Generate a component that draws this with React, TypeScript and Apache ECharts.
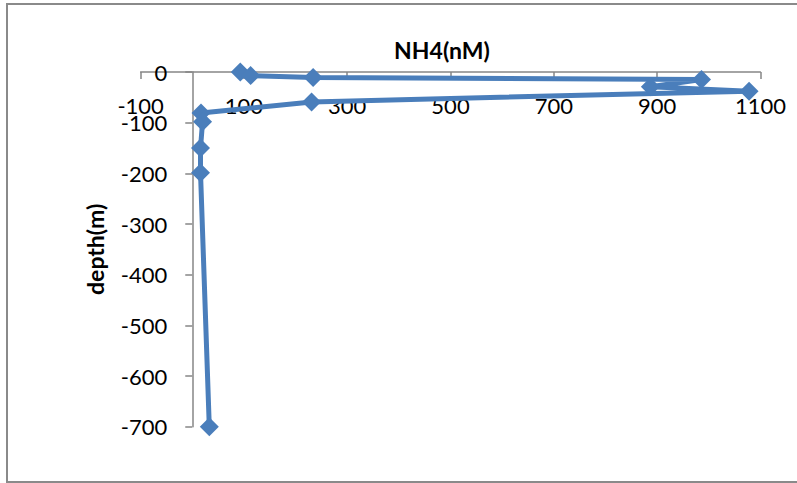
import React, { useEffect, useRef } from "react";
import * as echarts from "echarts";

const nh4Values: number[] = [93, 113, 234, 986, 887, 1078, 231, 17, 20, 16, 16, 33];
const depthValues: number[] = [0, -7, -11, -15, -29, -38, -59, -81, -98, -150, -199, -700];
const xTitle = "NH4(nM)";
const yTitle = "depth(m)";

export default function App() {
  const ref = useRef<HTMLDivElement>(null);
  useEffect(() => {
    if (!ref.current) return;
    const chart = echarts.init(ref.current, null, { renderer: "svg" });
    const data = nh4Values.map((x, i) => [x, depthValues[i]]);
    const font = "Lato, 'Open Sans', sans-serif";
    const gridLeft = 140.6;
    const gridRight = 36.6;
    const xMin = -100;
    const xMax = 1100;
    const plotW = 797 - gridLeft - gridRight;
    const yAxisOffset = -((0 - xMin) / (xMax - xMin)) * plotW;
    chart.setOption({
      animation: false,
      backgroundColor: "#ffffff",
      title: {
        text: xTitle,
        left: 437,
        top: 33,
        textAlign: "center",
        textStyle: { fontFamily: font, fontWeight: "bold", fontSize: 23, color: "#000" },
      },
      graphic: [
        {
          type: "rect",
          shape: { x: 7, y: 4, width: 800, height: 478 },
          style: { fill: "none", stroke: "#8a8a8a", lineWidth: 2 },
          silent: true,
          z: -1,
        },
      ],
      grid: { left: gridLeft, right: gridRight, top: 72, bottom: 56.3, containLabel: false },
      xAxis: {
        type: "value",
        position: "top",
        min: xMin,
        max: xMax,
        interval: 200,
        axisLine: { show: true, onZero: true, lineStyle: { color: "#868686", width: 1.5 } },
        axisTick: { show: true, inside: true, length: 7, lineStyle: { color: "#868686", width: 1.5 } },
        axisLabel: {
          inside: true,
          margin: 22,
          showMinLabel: true,
          showMaxLabel: true,
          fontFamily: font,
          fontSize: 22,
          color: "#000",
          formatter: (v: number) => String(v),
        },
        splitLine: { show: false },
      },
      yAxis: {
        type: "value",
        min: -700,
        max: 0,
        interval: 100,
        offset: yAxisOffset,
        name: yTitle,
        nameLocation: "middle",
        nameGap: 86,
        nameTextStyle: { fontFamily: font, fontWeight: "bold", fontSize: 23, color: "#000" },
        axisLine: { show: true, onZero: false, lineStyle: { color: "#868686", width: 1.5 } },
        axisTick: { show: true, length: 7, lineStyle: { color: "#868686", width: 1.5 } },
        axisLabel: {
          margin: 25,
          showMinLabel: true,
          showMaxLabel: true,
          fontFamily: font,
          fontSize: 22,
          color: "#000",
          formatter: (v: number) => String(v),
        },
        splitLine: { show: false },
      },
      series: [
        {
          type: "line",
          data,
          symbol: "diamond",
          symbolSize: 19,
          showAllSymbol: true,
          lineStyle: { color: "#4a7ebb", width: 5 },
          itemStyle: { color: "#4a7ebb" },
        },
      ],
    });
    return () => chart.dispose();
  }, []);
  return (
    <div
      ref={ref}
      style={{ position: "fixed", left: 0, top: 0, width: 797, height: 483, background: "#fff" }}
    />
  );
}
